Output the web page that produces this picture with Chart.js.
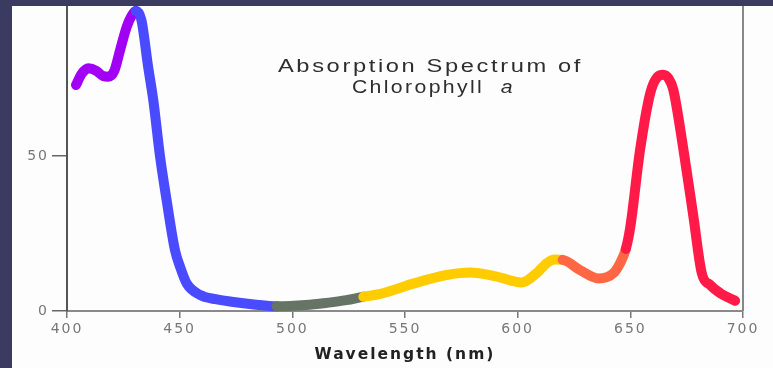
<!DOCTYPE html>
<html>
<head>
<meta charset="utf-8">
<title>Absorption Spectrum of Chlorophyll a</title>
<script src="https://cdn.jsdelivr.net/npm/chart.js@4/dist/chart.umd.min.js"></script>
<style>
	html, body { margin: 0; padding: 0; width: 773px; height: 368px; overflow: hidden; background: #3b3a61; }
	#wrapper { position: absolute; left: 12px; top: 6px; width: 761px; height: 362px; background: #fdfdfd; }
	canvas { display: block; }
</style>
</head>
<body>
<div id="wrapper"><canvas id="chart" width="761" height="362"></canvas></div>
<script>
const wavelengths = [
	404, 406.5, 409.5, 413, 416, 418.5, 421, 423.5, 426.5, 428.5, 430.5,
	433, 436, 438.3, 441.3, 444.2, 447.9, 450.3, 453.1, 459, 466, 473, 483, 493,
	506, 515, 524, 531.5,
	539, 554, 568.5, 579, 590.7, 601.8, 608.4, 613, 616.5, 620,
	627.7, 635.9, 642.5, 645.5, 648,
	650, 654.3, 658.8, 662, 664.5, 667, 669.1, 673.6, 678, 681.7, 685.4, 690, 696.5
];
const absorbance = [
	72.9, 76.5, 78.3, 77.5, 75.8, 75.6, 77.5, 84, 91.7, 95, 96.8,
	93.9, 78.8, 68, 49.8, 35.8, 19.7, 14, 8.9, 5.2, 3.8, 3.0, 2.1, 1.5,
	1.9, 2.6, 3.5, 4.6,
	5.5, 8.9, 11.6, 12.4, 11.1, 9.2, 12.2, 15.5, 16.6, 16.5,
	13.2, 10.5, 12.2, 15.5, 20,
	27.2, 51.9, 70.2, 75.5, 76.2, 75, 71.3, 51.9, 30.4, 12.2, 8.4, 5.7, 3.3
];
const xTicks = [400, 450, 500, 550, 600, 650, 700];
const yTicks = [0, 50];
const titleLine1 = 'Absorption Spectrum of';
const titleLine2 = 'Chlorophyll  ';
const titleItalic = 'a';
const xTitle = 'Wavelength (nm)';

// the trace changes colour at these wavelengths
const bandEdges = [430.6, 493.5, 532, 620.5, 647.5, Infinity];
const bandColors = ['#a100f4', '#4a4aff', '#667466', '#ffcc00', '#ff6644', '#ff1a48'];

function bandColor(x) {
	for (let i = 0; i < bandEdges.length; i++) {
		if (x < bandEdges[i]) {
			return bandColors[i];
		}
	}
	return bandColors[bandColors.length - 1];
}

function setSpacing(ctx, px) {
	if ('letterSpacing' in ctx) {
		ctx.letterSpacing = px + 'px';
	}
}

// draws text pieces on one line, stretched sideways to a given width
function drawStretched(ctx, parts, cx, cy, width) {
	let natural = 0;
	setSpacing(ctx, 2);
	parts.forEach(function(p) {
		ctx.font = p.font;
		p.width = ctx.measureText(p.text).width;
		natural += p.width;
	});
	const sx = width / natural;
	ctx.save();
	ctx.translate(cx - width / 2, cy);
	ctx.scale(sx, 1);
	let x = 0;
	parts.forEach(function(p) {
		ctx.font = p.font;
		ctx.fillText(p.text, x, 0);
		x += p.width;
	});
	ctx.restore();
}

const framePlugin = {
	id: 'frame',
	beforeDraw: function(chart) {
		setSpacing(chart.ctx, 2);
	},
	afterDraw: function(chart) {
		const ctx = chart.ctx;
		const area = chart.chartArea;
		const xs = chart.scales.x;
		const ys = chart.scales.y;

		ctx.save();
		ctx.strokeStyle = '#888';
		ctx.lineWidth = 2;
		ctx.beginPath();
		ctx.moveTo(area.right, area.top);
		ctx.lineTo(area.right, area.bottom);
		ctx.stroke();

		ctx.fillStyle = '#2e2e2e';
		ctx.textAlign = 'left';
		ctx.textBaseline = 'middle';
		const font = '18px "Liberation Sans", Arial, sans-serif';
		drawStretched(ctx, [{text: titleLine1, font: font}],
			xs.getPixelForValue(561.3), ys.getPixelForValue(78.7), 305);
		drawStretched(ctx, [
			{text: titleLine2, font: font},
			{text: titleItalic, font: 'italic ' + font}
		], xs.getPixelForValue(562.6), ys.getPixelForValue(71.9), 163);
		ctx.restore();
	}
};

const tickFont = {family: '"DejaVu Sans", Verdana, sans-serif', size: 14};

new Chart(document.getElementById('chart').getContext('2d'), {
	type: 'line',
	data: {
		datasets: [{
			data: wavelengths.map(function(w, i) {
				return {x: w, y: absorbance[i]};
			}),
			borderWidth: 10,
			borderCapStyle: 'round',
			borderJoinStyle: 'round',
			cubicInterpolationMode: 'monotone',
			pointRadius: 0,
			clip: false,
			segment: {
				borderColor: function(ctx) {
					return bandColor((ctx.p0.parsed.x + ctx.p1.parsed.x) / 2);
				}
			}
		}]
	},
	options: {
		responsive: false,
		animation: false,
		devicePixelRatio: 1,
		layout: {padding: {top: 0, right: 30, bottom: 0, left: 0}},
		plugins: {
			legend: {display: false},
			tooltip: {enabled: false}
		},
		scales: {
			x: {
				type: 'linear',
				min: 400,
				max: 700,
				afterBuildTicks: function(scale) {
					scale.ticks = xTicks.map(function(v) {
						return {value: v};
					});
				},
				afterFit: function(scale) {
					scale.height = 57;
					scale.paddingLeft = 0;
					scale.paddingRight = 0;
				},
				grid: {drawOnChartArea: false, tickLength: 7, color: '#777', lineWidth: 1.5},
				border: {color: '#8a8a8a', width: 2},
				ticks: {font: tickFont, color: '#777', padding: 3, maxRotation: 0},
				title: {
					display: true,
					text: xTitle,
					color: '#222',
					font: {family: '"DejaVu Sans", Verdana, sans-serif', size: 15.5, weight: 'bold'},
					padding: {top: 0, bottom: 4}
				}
			},
			y: {
				min: 0,
				max: 98.4,
				afterBuildTicks: function(scale) {
					scale.ticks = yTicks.map(function(v) {
						return {value: v};
					});
				},
				afterFit: function(scale) {
					scale.width = 55;
					scale.paddingTop = 0;
					scale.paddingBottom = 0;
				},
				grid: {drawOnChartArea: false, tickLength: 15, color: '#666', lineWidth: 1.5},
				border: {color: '#555', width: 2},
				ticks: {font: tickFont, color: '#777', padding: 3}
			}
		}
	},
	plugins: [framePlugin]
});
</script>
</body>
</html>
